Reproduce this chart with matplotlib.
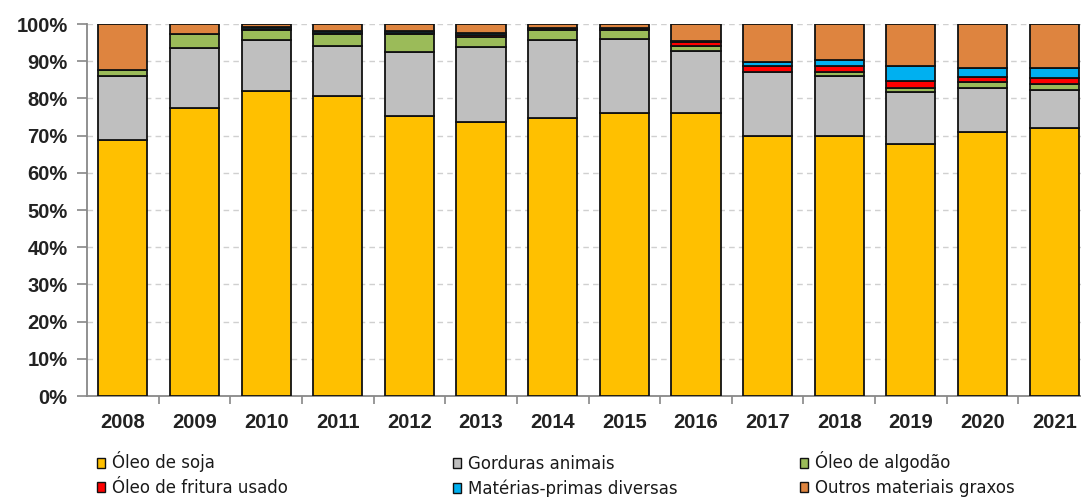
import matplotlib
matplotlib.use("Agg")
import matplotlib.pyplot as plt
from matplotlib.patches import Patch
from matplotlib.ticker import PercentFormatter, FixedLocator, NullFormatter
import numpy as np

years = ["2008", "2009", "2010", "2011", "2012", "2013", "2014",
         "2015", "2016", "2017", "2018", "2019", "2020", "2021"]

oleo_soja = [68.8, 77.4, 82.1, 80.7, 75.3, 73.6, 74.7, 76.2, 76.2, 70.0, 70.0, 67.8, 71.0, 72.0]
gorduras_animais = [17.3, 16.1, 13.6, 13.4, 17.1, 20.3, 21.0, 19.9, 16.6, 17.0, 16.0, 13.9, 11.8, 10.2]
oleo_algodao = [1.6, 3.8, 2.7, 3.2, 4.9, 2.7, 2.7, 2.3, 1.3, 0.0, 1.2, 1.1, 1.5, 1.7]
oleo_fritura = [0.0, 0.0, 0.35, 0.35, 0.35, 0.5, 0.3, 0.3, 1.0, 1.7, 1.4, 1.8, 1.4, 1.5]
materias_diversas = [0.0, 0.0, 0.35, 0.35, 0.35, 0.5, 0.3, 0.3, 0.4, 1.2, 1.6, 4.1, 2.6, 2.7]
outros_graxos = [12.3, 2.7, 0.9, 2.0, 2.0, 2.4, 1.0, 1.0, 4.5, 10.1, 9.8, 11.3, 11.7, 11.9]

series_names = ["Óleo de soja", "Gorduras animais", "Óleo de algodão",
                "Óleo de fritura usado", "Matérias-primas diversas", "Outros materiais graxos"]
series_colors = ["#FFC000", "#BFBFBF", "#9BBB59", "#FF0000", "#00B0F0", "#DE843F"]
series_values = [oleo_soja, gorduras_animais, oleo_algodao, oleo_fritura,
                 materias_diversas, outros_graxos]

plt.rcParams['font.family'] = ['Liberation Sans', 'DejaVu Sans']

fig = plt.figure(figsize=(10.81, 4.97), dpi=100)
ax = fig.add_axes([87/1081, 101/497, 1003/1081, 372/497])

x = np.arange(len(years))
bottom = np.zeros(len(years))
for name, color, vals in zip(series_names, series_colors, series_values):
    v = np.array(vals, dtype=float)
    ax.bar(x, v, bottom=bottom, width=0.685, color=color, edgecolor="#111111",
           linewidth=1.3, zorder=3, label=name)
    bottom += v

ax.set_xlim(-0.5, len(years) - 0.5)
ax.set_ylim(0, 100)
ax.yaxis.set_major_locator(FixedLocator(np.arange(0, 101, 10)))
ax.yaxis.set_major_formatter(PercentFormatter(decimals=0))
ax.set_xticks(x)
ax.set_xticklabels(years)
ax.xaxis.set_minor_locator(FixedLocator(np.arange(0.5, len(years) - 0.5, 1)))
ax.xaxis.set_minor_formatter(NullFormatter())
ax.tick_params(axis='x', which='major', length=0, pad=12, labelsize=14.5, labelcolor="#222222")
ax.tick_params(axis='x', which='minor', length=6, width=1.2, color="#888888", direction='out')
ax.tick_params(axis='y', length=7, width=1.2, color="#888888", direction='out',
               labelsize=14.5, labelcolor="#222222", pad=7)

for lbl in ax.get_xticklabels() + ax.get_yticklabels():
    lbl.set_fontweight('bold')

ax.grid(axis='y', linestyle=(0, (4, 3)), color="#D0D0D0", linewidth=1.0, zorder=0)
for side in ['top', 'right']:
    ax.spines[side].set_visible(False)
for side in ['left', 'bottom']:
    ax.spines[side].set_color("#888888")
    ax.spines[side].set_linewidth(1.3)

handles = [Patch(facecolor=c, edgecolor="#111111", linewidth=1.0) for c in series_colors]
xpos = [97, 453, 800]
ypos = [[462, 464, 462], [488, 489, 488]]
for k in range(6):
    col = k % 3
    row = k // 3
    leg = fig.legend([handles[k]], [series_names[k]],
                     loc='center left',
                     bbox_to_anchor=(xpos[col] / 1081, 1 - ypos[row][col] / 497),
                     frameon=False, prop={'family': 'DejaVu Sans', 'size': 12},
                     handlelength=0.48, handleheight=0.55, handletextpad=0.42,
                     borderaxespad=0, borderpad=0)
    for t in leg.get_texts():
        t.set_color("#1a1a1a")

fig.savefig("out.png", dpi=100)
